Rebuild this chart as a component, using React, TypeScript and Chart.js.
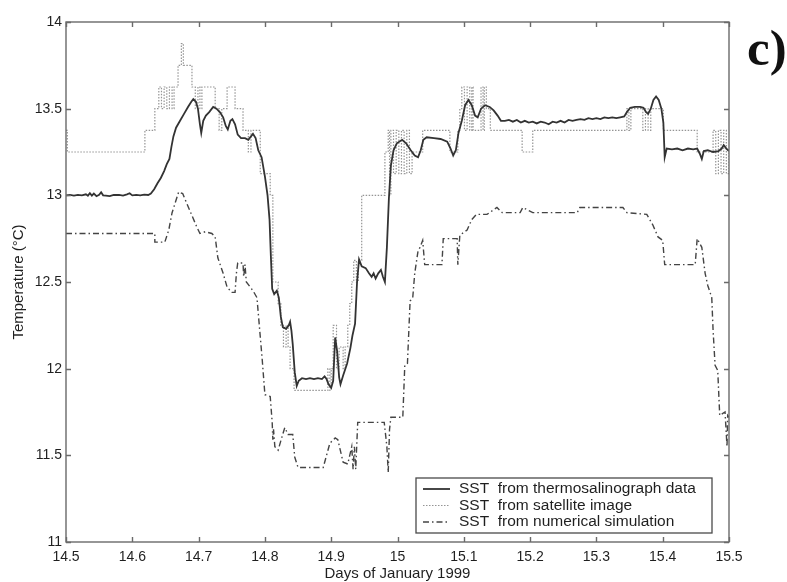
import React, { useEffect, useRef } from "react";
import { Chart, registerables } from "chart.js";

Chart.register(...registerables);

const xTicks = [14.5, 14.6, 14.7, 14.8, 14.9, 15.0, 15.1, 15.2, 15.3, 15.4, 15.5];
const yTicks = [11, 11.5, 12, 12.5, 13, 13.5, 14];
const xTitle = "Days of January 1999";
const yTitle = "Temperature (°C)";
const panelTag = "c)";
const seriesLabels = [
  "SST  from thermosalinograph data",
  "SST  from satellite image",
  "SST  from numerical simulation",
];

// SST from thermosalinograph data [day, °C]
const thermo: [number, number][] = [
  [14.500,13.000],[14.506,13.002],[14.512,12.998],[14.518,13.003],[14.524,13.000],[14.530,13.006],[14.533,12.998],[14.536,13.012],[14.539,12.998],[14.542,13.010],[14.546,12.995],[14.550,13.003],[14.553,13.018],[14.556,13.000],[14.560,12.998],[14.566,12.995],[14.572,13.002],[14.580,13.003],[14.586,12.998],[14.592,13.006],[14.596,13.012],[14.600,13.000],[14.606,13.003],[14.612,13.000],[14.618,13.004],[14.624,13.002],[14.628,13.010],[14.633,13.035],[14.638,13.07],[14.643,13.10],[14.648,13.14],[14.652,13.18],[14.656,13.21],[14.659,13.28],[14.662,13.34],[14.666,13.39],[14.672,13.43],[14.678,13.47],[14.684,13.51],[14.689,13.54],[14.692,13.555],[14.696,13.54],[14.699,13.50],[14.702,13.41],[14.704,13.36],[14.707,13.43],[14.711,13.46],[14.716,13.48],[14.722,13.51],[14.727,13.50],[14.732,13.48],[14.737,13.45],[14.741,13.40],[14.744,13.38],[14.748,13.43],[14.751,13.44],[14.755,13.41],[14.759,13.35],[14.764,13.33],[14.770,13.33],[14.775,13.32],[14.779,13.34],[14.782,13.355],[14.786,13.33],[14.790,13.26],[14.795,13.22],[14.800,13.11],[14.804,13.00],[14.807,12.86],[14.809,12.65],[14.811,12.46],[14.814,12.43],[14.818,12.45],[14.821,12.41],[14.824,12.30],[14.827,12.24],[14.832,12.23],[14.836,12.25],[14.838,12.27],[14.840,12.22],[14.842,12.14],[14.845,11.98],[14.848,11.90],[14.851,11.93],[14.856,11.945],[14.862,11.94],[14.868,11.945],[14.874,11.94],[14.880,11.945],[14.886,11.94],[14.890,11.955],[14.893,11.94],[14.896,11.91],[14.900,11.89],[14.903,11.93],[14.906,12.18],[14.909,12.10],[14.912,11.95],[14.914,11.91],[14.918,11.96],[14.924,12.03],[14.929,12.12],[14.932,12.19],[14.936,12.26],[14.939,12.50],[14.942,12.63],[14.946,12.59],[14.952,12.58],[14.957,12.55],[14.961,12.53],[14.964,12.55],[14.967,12.52],[14.971,12.55],[14.975,12.57],[14.978,12.53],[14.981,12.50],[14.984,12.70],[14.987,12.98],[14.990,13.17],[14.994,13.26],[14.999,13.30],[15.007,13.32],[15.013,13.30],[15.020,13.26],[15.026,13.23],[15.031,13.22],[15.035,13.26],[15.039,13.32],[15.044,13.335],[15.055,13.33],[15.065,13.325],[15.075,13.31],[15.080,13.27],[15.084,13.23],[15.088,13.26],[15.092,13.36],[15.097,13.43],[15.102,13.52],[15.107,13.55],[15.112,13.52],[15.117,13.46],[15.121,13.45],[15.126,13.50],[15.132,13.52],[15.139,13.51],[15.145,13.49],[15.151,13.46],[15.156,13.43],[15.162,13.43],[15.168,13.435],[15.174,13.425],[15.180,13.435],[15.186,13.42],[15.192,13.43],[15.198,13.42],[15.204,13.425],[15.210,13.415],[15.216,13.425],[15.222,13.42],[15.228,13.41],[15.234,13.425],[15.240,13.42],[15.246,13.43],[15.252,13.42],[15.258,13.435],[15.264,13.43],[15.270,13.435],[15.276,13.44],[15.282,13.435],[15.288,13.445],[15.294,13.44],[15.300,13.445],[15.306,13.44],[15.312,13.45],[15.318,13.445],[15.324,13.45],[15.330,13.445],[15.336,13.45],[15.342,13.455],[15.346,13.48],[15.351,13.505],[15.358,13.51],[15.366,13.51],[15.371,13.505],[15.375,13.48],[15.378,13.47],[15.382,13.50],[15.386,13.55],[15.390,13.57],[15.394,13.55],[15.398,13.50],[15.401,13.42],[15.403,13.22],[15.406,13.27],[15.414,13.265],[15.422,13.27],[15.430,13.26],[15.438,13.27],[15.446,13.265],[15.452,13.27],[15.456,13.24],[15.459,13.21],[15.462,13.255],[15.468,13.26],[15.476,13.25],[15.484,13.255],[15.489,13.27],[15.492,13.29],[15.496,13.27],[15.500,13.255],
];

// SST from satellite image [day, °C] (stepped: value holds until next point)
const satellite: [number, number][] = [
  [14.500,13.375],[14.502,13.25],[14.619,13.375],[14.634,13.5],[14.640,13.625],[14.644,13.5],[14.648,13.625],[14.652,13.5],[14.656,13.625],[14.660,13.5],[14.663,13.625],[14.669,13.75],[14.674,13.875],[14.677,13.75],[14.690,13.625],[14.695,13.5],[14.699,13.625],[14.702,13.5],[14.705,13.625],[14.725,13.5],[14.731,13.375],[14.735,13.5],[14.743,13.625],[14.755,13.5],[14.767,13.375],[14.775,13.25],[14.779,13.375],[14.793,13.125],[14.808,13.0],[14.812,12.5],[14.820,12.375],[14.824,12.25],[14.828,12.125],[14.832,12.25],[14.835,12.125],[14.838,12.0],[14.844,11.875],[14.895,12.0],[14.898,11.875],[14.900,12.0],[14.903,12.25],[14.908,12.0],[14.912,12.125],[14.918,12.0],[14.921,12.125],[14.925,12.25],[14.928,12.375],[14.931,12.5],[14.934,12.625],[14.938,12.5],[14.941,12.625],[14.946,13.0],[14.981,13.25],[14.986,13.375],[14.988,13.0],[14.990,13.375],[14.994,13.125],[14.998,13.375],[15.002,13.125],[15.006,13.375],[15.010,13.125],[15.014,13.375],[15.018,13.125],[15.022,13.25],[15.038,13.375],[15.079,13.25],[15.091,13.375],[15.094,13.5],[15.097,13.625],[15.101,13.375],[15.105,13.625],[15.109,13.375],[15.112,13.625],[15.114,13.375],[15.126,13.625],[15.129,13.375],[15.131,13.625],[15.134,13.5],[15.140,13.375],[15.188,13.25],[15.204,13.375],[15.346,13.5],[15.349,13.375],[15.352,13.5],[15.370,13.375],[15.374,13.5],[15.378,13.375],[15.382,13.5],[15.401,13.375],[15.452,13.25],[15.476,13.375],[15.480,13.125],[15.484,13.375],[15.488,13.125],[15.492,13.375],[15.496,13.125],[15.500,13.25],
];

// SST from numerical simulation [day, °C]
const simulation: [number, number][] = [
  [14.500,12.78],[14.634,12.78],[14.634,12.73],[14.649,12.73],[14.655,12.80],[14.660,12.90],[14.670,13.02],[14.676,13.01],[14.687,12.91],[14.697,12.82],[14.702,12.78],[14.710,12.79],[14.720,12.78],[14.725,12.76],[14.729,12.64],[14.737,12.55],[14.743,12.47],[14.750,12.44],[14.755,12.44],[14.757,12.55],[14.759,12.61],[14.767,12.61],[14.768,12.53],[14.770,12.60],[14.772,12.50],[14.782,12.45],[14.788,12.41],[14.796,12.05],[14.800,11.85],[14.808,11.84],[14.811,11.69],[14.812,11.59],[14.813,11.65],[14.815,11.55],[14.820,11.53],[14.826,11.61],[14.830,11.66],[14.835,11.62],[14.842,11.62],[14.845,11.49],[14.850,11.43],[14.888,11.43],[14.898,11.57],[14.906,11.60],[14.910,11.59],[14.918,11.46],[14.925,11.45],[14.931,11.55],[14.933,11.42],[14.935,11.55],[14.937,11.42],[14.939,11.60],[14.940,11.69],[14.980,11.69],[14.984,11.55],[14.986,11.40],[14.988,11.65],[14.990,11.72],[15.008,11.72],[15.011,12.02],[15.015,12.03],[15.019,12.39],[15.023,12.41],[15.026,12.55],[15.031,12.68],[15.034,12.70],[15.038,12.74],[15.041,12.60],[15.067,12.60],[15.069,12.75],[15.090,12.75],[15.091,12.60],[15.094,12.77],[15.105,12.80],[15.112,12.86],[15.119,12.89],[15.135,12.89],[15.150,12.93],[15.158,12.90],[15.185,12.90],[15.189,12.93],[15.204,12.90],[15.271,12.90],[15.275,12.93],[15.340,12.93],[15.346,12.90],[15.376,12.89],[15.385,12.83],[15.393,12.76],[15.400,12.74],[15.403,12.60],[15.449,12.60],[15.452,12.75],[15.459,12.70],[15.464,12.55],[15.468,12.48],[15.474,12.41],[15.476,12.22],[15.479,12.02],[15.483,11.99],[15.486,11.73],[15.494,11.75],[15.497,11.55],[15.498,11.73],[15.500,11.72],
];

const TEXT = "#1f1f1f";
const FRAME = "#6a6a6a";
const FONT = "'Liberation Sans', Arial, Helvetica, sans-serif";

const fmt = (v: number) => String(Number(Number(v).toFixed(1)));

const framePlugin = {
  id: "frame",
  afterDraw(chart: any) {
    const { ctx, chartArea: ca, scales } = chart;
    const xs = scales.x;
    const ys = scales.y;
    ctx.save();
    ctx.strokeStyle = FRAME;
    ctx.lineWidth = 1.4;
    ctx.setLineDash([]);
    ctx.strokeRect(ca.left, ca.top, ca.right - ca.left, ca.bottom - ca.top);
    const tl = 5;
    ctx.beginPath();
    xTicks.forEach((v) => {
      const px = Math.round(xs.getPixelForValue(v)) + 0.5;
      ctx.moveTo(px, ca.bottom);
      ctx.lineTo(px, ca.bottom - tl);
      ctx.moveTo(px, ca.top);
      ctx.lineTo(px, ca.top + tl);
    });
    yTicks.forEach((v) => {
      const py = Math.round(ys.getPixelForValue(v)) + 0.5;
      ctx.moveTo(ca.left, py);
      ctx.lineTo(ca.left + tl, py);
      ctx.moveTo(ca.right, py);
      ctx.lineTo(ca.right - tl, py);
    });
    ctx.stroke();

    // legend
    const bw = 296;
    const bh = 55;
    const bx = ca.right - 17 - bw;
    const by = ca.bottom - 9 - bh;
    ctx.fillStyle = "#ffffff";
    ctx.fillRect(bx, by, bw, bh);
    ctx.strokeStyle = "#4a4a4a";
    ctx.lineWidth = 1.3;
    ctx.strokeRect(bx, by, bw, bh);
    ctx.font = `15.5px ${FONT}`;
    ctx.textBaseline = "middle";
    ctx.textAlign = "left";
    chart.data.datasets.forEach((ds: any, i: number) => {
      const cy = by + 11 + i * 16.5;
      ctx.save();
      ctx.strokeStyle = ds.borderColor;
      ctx.lineWidth = ds.borderWidth;
      ctx.setLineDash(ds.borderDash || []);
      ctx.beginPath();
      ctx.moveTo(bx + 7, cy);
      ctx.lineTo(bx + 34, cy);
      ctx.stroke();
      ctx.restore();
      ctx.fillStyle = TEXT;
      ctx.fillText(ds.label, bx + 43, cy);
    });

    // panel tag
    ctx.fillStyle = "#111";
    ctx.font = `bold 51px 'Liberation Serif', 'Times New Roman', serif`;
    ctx.textBaseline = "alphabetic";
    ctx.fillText(panelTag, 747, 65);
    ctx.restore();
  },
};

export default function App() {
  const ref = useRef<HTMLCanvasElement | null>(null);
  useEffect(() => {
    document.body.style.margin = "0";
    const canvas = ref.current!;
    const toXY = (arr: [number, number][]) => arr.map(([x, y]) => ({ x, y }));
    const chart = new Chart(canvas, {
      type: "line",
      data: {
        datasets: [
          {
            label: seriesLabels[0],
            data: toXY(thermo),
            borderColor: "#333333",
            borderWidth: 1.8,
            pointRadius: 0,
            tension: 0,
          },
          {
            label: seriesLabels[1],
            data: toXY(satellite),
            borderColor: "#959595",
            borderWidth: 1.2,
            borderDash: [1.5, 1.5],
            stepped: true,
            pointRadius: 0,
          },
          {
            label: seriesLabels[2],
            data: toXY(simulation),
            borderColor: "#444444",
            borderWidth: 1.4,
            borderDash: [6, 3, 1.5, 3],
            pointRadius: 0,
            tension: 0,
          },
        ],
      } as any,
      options: {
        animation: false,
        responsive: false,
        devicePixelRatio: 1,
        layout: { padding: { left: 0, right: 58, top: 22, bottom: 0 } },
        plugins: { legend: { display: false }, tooltip: { enabled: false } },
        scales: {
          x: {
            type: "linear",
            min: 14.5,
            max: 15.5,
            afterBuildTicks: (s: any) => {
              s.ticks = xTicks.map((v) => ({ value: v }));
            },
            afterFit: (s: any) => {
              s.height = 40;
            },
            grid: { display: false, drawTicks: false },
            border: { display: false },
            ticks: {
              autoSkip: false,
              maxRotation: 0,
              padding: 7,
              color: TEXT,
              font: { family: FONT, size: 14 },
              callback: (v: any) => fmt(v),
            },
            title: {
              display: true,
              text: xTitle,
              color: TEXT,
              font: { family: FONT, size: 15 },
              padding: { top: 0, bottom: -1 },
            },
          },
          y: {
            type: "linear",
            min: 11,
            max: 14,
            afterBuildTicks: (s: any) => {
              s.ticks = yTicks.map((v) => ({ value: v }));
            },
            afterFit: (s: any) => {
              s.width = 66;
            },
            grid: { display: false, drawTicks: false },
            border: { display: false },
            ticks: {
              padding: 4,
              color: TEXT,
              font: { family: FONT, size: 14 },
              callback: (v: any) => fmt(v),
            },
            title: {
              display: true,
              text: yTitle,
              color: TEXT,
              font: { family: FONT, size: 15 },
              padding: { top: 10, bottom: 0 },
            },
          },
        },
      } as any,
      plugins: [framePlugin],
    });
    return () => chart.destroy();
  }, []);
  return (
    <div style={{ position: "absolute", left: 0, top: 0, width: 787, height: 582, background: "#fff" }}>
      <canvas ref={ref} width={787} height={582} style={{ display: "block" }} />
    </div>
  );
}
